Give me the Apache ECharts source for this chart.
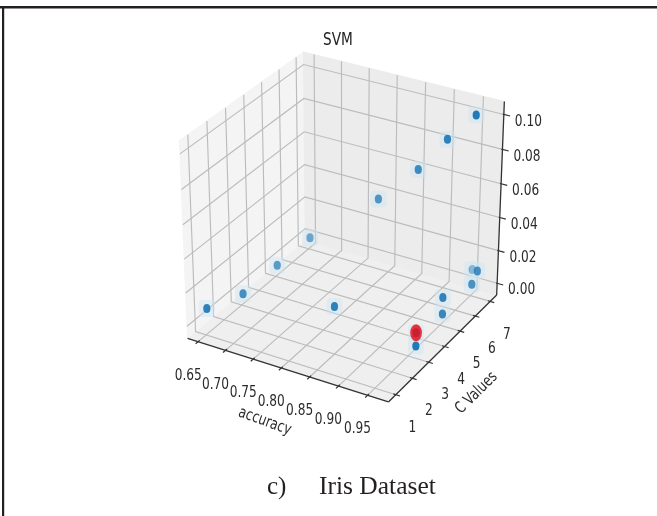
<!DOCTYPE html>
<html>
<head>
<meta charset="utf-8">
<title>SVM - Iris Dataset</title>
<script src="https://cdn.jsdelivr.net/npm/echarts@6.0.0/dist/echarts.min.js"></script>
<style>
  html, body { margin: 0; padding: 0; background: #ffffff; }
  #chart { width: 657px; height: 516px; }
</style>
</head>
<body>
<div id="chart"></div>
<script>
// SVM runs on the Iris data: test accuracy, C value and the third tuning value of each run
const accuracy = [0.653, 0.653, 0.653, 0.653, 0.820, 0.781, 0.852, 0.902, 0.950, 0.954, 0.954, 0.963, 0.963, 0.952, 0.961, 0.952];
const cValues  = [1, 3, 5, 7, 3, 7, 7, 7, 7, 5, 5, 3, 3, 7, 7, 7];
const zValues  = [0.009, 0, 0, 0, 0.009, 0.036, 0.060, 0.082, 0.100, 0.010, 0, 0.008, 0, 0.009, 0.009, 0];
const bestRun = 11;   // run marked in red

const accTicks = [0.65, 0.70, 0.75, 0.80, 0.85, 0.90, 0.95];
const cTicks   = [1, 2, 3, 4, 5, 6, 7];
const zTicks   = [0.00, 0.02, 0.04, 0.06, 0.08, 0.10];
const axisNames = ['accuracy', 'C Values'];
const titleText = 'SVM';
const captionTag = 'c)';
const captionText = 'Iris Dataset';

// ---- 3D view (camera above the box, looking at its centre) ----
const VIEW = { elev: 30, azim: -60, dist: 10 };
const el = VIEW.elev * Math.PI / 180, az = VIEW.azim * Math.PI / 180;
const nVec = [Math.cos(el) * Math.cos(az), Math.cos(el) * Math.sin(az), Math.sin(el)];
const uLen = Math.hypot(nVec[0], nVec[1]);
const uVec = [-nVec[1] / uLen, nVec[0] / uLen, 0];
const vVec = [
  nVec[1] * uVec[2] - nVec[2] * uVec[1],
  nVec[2] * uVec[0] - nVec[0] * uVec[2],
  nVec[0] * uVec[1] - nVec[1] * uVec[0]
];
function dot(a, b) { return a[0] * b[0] + a[1] * b[1] + a[2] * b[2]; }
// unit-box coordinates -> projected plane coordinates
function projectBox(X, Y, Z) {
  const d = [X - 0.5, Y - 0.5, Z - 0.5];
  const w = VIEW.dist - dot(nVec, d);
  return [dot(uVec, d) / w, dot(vVec, d) / w];
}
function depthOf(X, Y, Z) { return dot(nVec, [X - 0.5, Y - 0.5, Z - 0.5]); }

// data limits with 5% margin, box drawn 1/48 wider on each side
function paddedRange(vals) {
  let lo = Math.min(...vals), hi = Math.max(...vals);
  const m = (hi - lo) * 0.05; lo -= m; hi += m;
  const e = (hi - lo) / 48;
  return [lo - e, hi + e];
}
const accRange = paddedRange(accuracy);
const cRange = paddedRange(cValues);
const zRange = paddedRange(zValues);
const nx = v => (v - accRange[0]) / (accRange[1] - accRange[0]);
const ny = v => (v - cRange[0]) / (cRange[1] - cRange[0]);
const nz = v => (v - zRange[0]) / (zRange[1] - zRange[0]);

const FONT = 'DejaVu Sans';
const SQUEEZE = 0.76;            // narrow glyphs of the figure text
const TICK_SIZE = 16;
const GRID_COLOR = '#bcbcbc';
const AXIS_COLOR = '#333333';
const LABEL_COLOR = '#2b2b2b';

function P(api, X, Y, Z) { return api.coord(projectBox(X, Y, Z)); }

function label(p, text, size, rot, opts) {
  return {
    type: 'text', x: p[0], y: p[1], rotation: rot || 0, scaleX: SQUEEZE,
    style: Object.assign({
      text: text, fill: LABEL_COLOR, fontSize: size, fontFamily: FONT,
      align: 'center', verticalAlign: 'middle'
    }, opts || {})
  };
}

// planes behind the data
const panes = [
  { corners: [[0, 0, 0], [1, 0, 0], [1, 1, 0], [0, 1, 0]], fill: '#efefef' },
  { corners: [[0, 0, 0], [0, 1, 0], [0, 1, 1], [0, 0, 1]], fill: '#f4f4f4' },
  { corners: [[0, 1, 0], [1, 1, 0], [1, 1, 1], [0, 1, 1]], fill: '#ececec' }
];

// gridlines: [axis index, tick value]
const gridItems = []
  .concat(accTicks.map(t => [0, t]))
  .concat(cTicks.map(t => [1, t]))
  .concat(zTicks.map(t => [2, t]));

function gridPath(api, axis, t) {
  if (axis === 0) { const X = nx(t); return [P(api, X, 0, 0), P(api, X, 1, 0), P(api, X, 1, 1)]; }
  if (axis === 1) { const Y = ny(t); return [P(api, 1, Y, 0), P(api, 0, Y, 0), P(api, 0, Y, 1)]; }
  const Z = nz(t); return [P(api, 0, 0, Z), P(api, 0, 1, Z), P(api, 1, 1, Z)];
}

const axisEdges = [
  [[0, 0, 0], [1, 0, 0]],
  [[1, 0, 0], [1, 1, 0]],
  [[1, 1, 0], [1, 1, 1]]
];

function tickGraphic(api, axis, t) {
  let a, b, p, text, off;
  if (axis === 0) {
    const X = nx(t);
    a = P(api, X, -0.02, 0); b = P(api, X, 0.012, 0); p = P(api, X, 0, 0);
    text = t.toFixed(2); off = [-10, 34];
  } else if (axis === 1) {
    const Y = ny(t);
    a = P(api, 1.02, Y, 0); b = P(api, 0.988, Y, 0); p = P(api, 1, Y, 0);
    text = String(t); off = [16.5, 33];
  } else {
    const Z = nz(t);
    a = P(api, 1.03, 1, Z); b = P(api, 0.995, 1, Z); p = P(api, 1, 1, Z);
    text = t.toFixed(2); off = [24.5, 7];
  }
  return {
    type: 'group', children: [
      { type: 'line', shape: { x1: a[0], y1: a[1], x2: b[0], y2: b[1] },
        style: { stroke: AXIS_COLOR, lineWidth: 1.2 } },
      label([p[0] + off[0], p[1] + off[1]], text, TICK_SIZE)
    ]
  };
}

// runs ordered far-to-near, lighter when farther away
const runs = accuracy.map((a, i) => {
  const X = nx(a), Y = ny(cValues[i]), Z = nz(zValues[i]);
  return { a: a, c: cValues[i], z: zValues[i], d: depthOf(X, Y, Z) };
});
const dMin = Math.min(...runs.map(r => r.d)), dMax = Math.max(...runs.map(r => r.d));
runs.sort((p, q) => p.d - q.d);
const pointData = runs.map(r => [r.a, r.c, r.z, 1 - (dMax - r.d) / (dMax - dMin) * 0.4]);

const chart = echarts.init(document.getElementById('chart'));

chart.setOption({
  animation: false,
  backgroundColor: '#ffffff',
  grid: { left: 124.2, top: 17.9, width: 429, height: 417.5 },
  xAxis: { type: 'value', min: -0.095, max: 0.09, show: false },
  yAxis: { type: 'value', min: -0.095, max: 0.09, show: false },
  graphic: [
    { type: 'rect', shape: { x: 0, y: 6, width: 657, height: 2.5 }, style: { fill: '#231f20' } },
    { type: 'rect', shape: { x: 2, y: 6, width: 2.2, height: 510 }, style: { fill: '#231f20' } },
    { type: 'text', x: 338, y: 40, scaleX: SQUEEZE,
      style: { text: titleText, fill: '#222', fontSize: 18, fontFamily: FONT, align: 'center', verticalAlign: 'middle' } },
    { type: 'text', x: 267, y: 487,
      style: { text: captionTag, fill: '#231f20', fontSize: 25, fontFamily: 'Liberation Serif', align: 'left', verticalAlign: 'middle' } },
    { type: 'text', x: 319, y: 487,
      style: { text: captionText, fill: '#231f20', fontSize: 25.5, fontFamily: 'Liberation Serif', align: 'left', verticalAlign: 'middle' } }
  ],
  series: [
    {
      type: 'custom', coordinateSystem: 'cartesian2d', z: 1, silent: true,
      data: panes.map((_, i) => [i]),
      renderItem: (params, api) => {
        const pane = panes[api.value(0)];
        return { type: 'polygon', shape: { points: pane.corners.map(c => P(api, c[0], c[1], c[2])) },
                 style: { fill: pane.fill, stroke: pane.fill } };
      }
    },
    {
      type: 'custom', coordinateSystem: 'cartesian2d', z: 2, silent: true,
      data: gridItems,
      renderItem: (params, api) => ({
        type: 'polyline', shape: { points: gridPath(api, api.value(0), api.value(1)) },
        style: { stroke: GRID_COLOR, lineWidth: 1.15, fill: null }
      })
    },
    {
      type: 'custom', coordinateSystem: 'cartesian2d', z: 3, silent: true,
      data: axisEdges.map((_, i) => [i]),
      renderItem: (params, api) => {
        const e = axisEdges[api.value(0)];
        const a = P(api, e[0][0], e[0][1], e[0][2]), b = P(api, e[1][0], e[1][1], e[1][2]);
        return { type: 'line', shape: { x1: a[0], y1: a[1], x2: b[0], y2: b[1] },
                 style: { stroke: AXIS_COLOR, lineWidth: 1.3 } };
      }
    },
    {
      type: 'custom', coordinateSystem: 'cartesian2d', z: 4, silent: true,
      data: gridItems,
      renderItem: (params, api) => tickGraphic(api, api.value(0), api.value(1))
    },
    {
      type: 'custom', coordinateSystem: 'cartesian2d', z: 4, silent: true,
      data: [[0], [1]],
      renderItem: (params, api) => {
        if (api.value(0) === 0) {
          const p = P(api, 0.5, 0, 0);
          return label([p[0] - 21, p[1] + 52], axisNames[0], TICK_SIZE, -20 * Math.PI / 180);
        }
        const p = P(api, 1, 0.5, 0);
        return label([p[0] + 32, p[1] + 46.5], axisNames[1], TICK_SIZE, 45 * Math.PI / 180);
      }
    },
    {
      type: 'custom', coordinateSystem: 'cartesian2d', z: 6, silent: true,
      data: pointData,
      renderItem: (params, api) => {
        const p = api.coord(projectBox(nx(api.value(0)), ny(api.value(1)), nz(api.value(2))));
        return {
          type: 'group', children: [
            { type: 'rect', shape: { x: p[0] - 8, y: p[1] - 8.5, width: 16, height: 17, r: 4 },
              style: { fill: 'rgba(206,230,245,0.45)' } },
            { type: 'circle', x: p[0], y: p[1], scaleX: 0.8,
              shape: { cx: 0, cy: 0, r: 4.5 },
              style: { fill: '#1f77b4', opacity: api.value(3) } }
          ]
        };
      }
    },
    {
      // highlighted best run, drawn over its blue point
      type: 'custom', coordinateSystem: 'cartesian2d', z: 7, silent: true,
      data: [[accuracy[bestRun], cValues[bestRun], zValues[bestRun]]],
      renderItem: (params, api) => {
        const p = api.coord(projectBox(nx(api.value(0)), ny(api.value(1)), nz(api.value(2))));
        return { type: 'circle', x: p[0], y: p[1], scaleX: 0.68,
                 shape: { cx: 0, cy: 0, r: 8.6 }, style: { fill: '#e3101d', opacity: 0.85 } };
      }
    }
  ]
});
</script>
</body>
</html>
